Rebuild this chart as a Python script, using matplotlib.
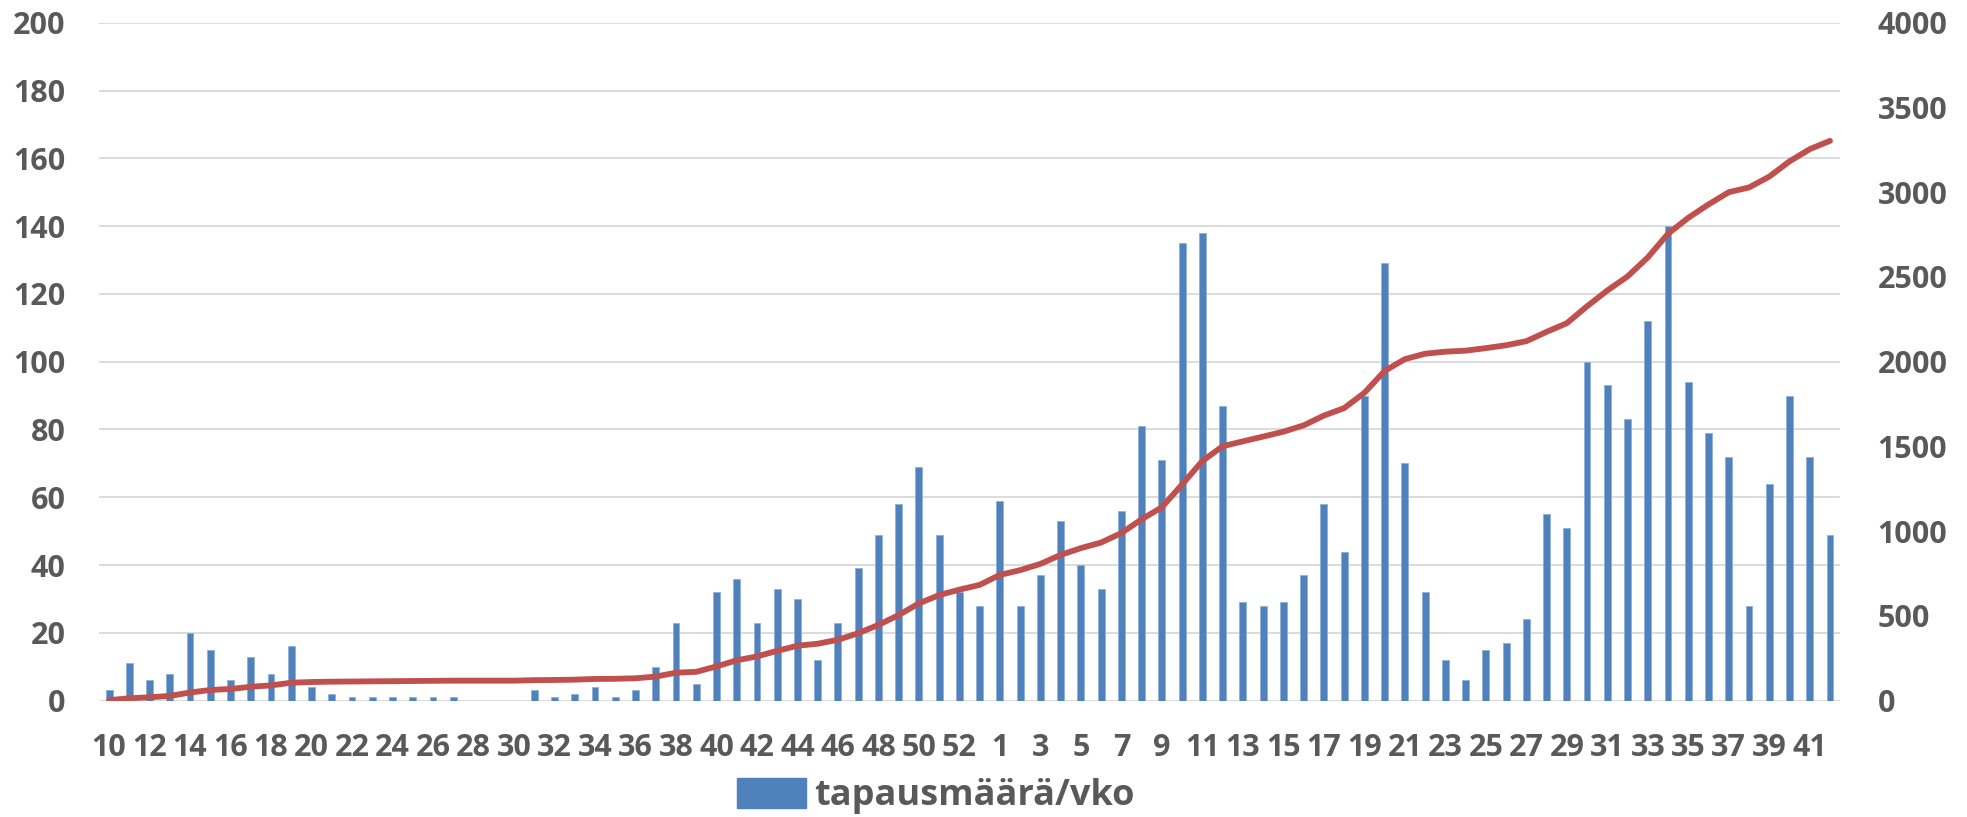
import numpy as np
import matplotlib
matplotlib.use("Agg")
import matplotlib.pyplot as plt
from matplotlib.patches import Patch

# viikot: 2020 vko 10-53, 2021 vko 1-42
weeks = list(range(10, 54)) + list(range(1, 43))

# tapausmäärä/vko (luettu kuvasta)
cases = [
    3, 11, 6, 8, 20, 15, 6, 13, 8, 16,        # 2020 vko 10-19
    4, 2, 1, 1, 1, 1, 1, 1, 0, 0,             # 20-29
    0, 3, 1, 2, 4, 1, 3, 10, 23, 5,           # 30-39
    32, 36, 23, 33, 30, 12, 23, 39, 49, 58,   # 40-49
    69, 49, 32, 28,                           # 50-53
    59, 28, 37, 53, 40, 33, 56, 81, 71,       # 2021 vko 1-9
    135, 138, 87, 29, 28, 29, 37, 58, 44, 90, # 10-19
    129, 70, 32, 12, 6, 15, 17, 24, 55, 51,   # 20-29
    100, 93, 83, 112, 140, 94, 79, 72, 28, 64,  # 30-39
    90, 72, 49,                               # 40-42
]

# kumulatiivinen summa (oikea akseli)
cumulative = np.cumsum(cases)

left_ticks = list(range(0, 201, 20))
right_ticks = list(range(0, 4001, 500))

BAR_COLOR = "#4F81BD"
LINE_COLOR = "#C0504D"
TEXT_COLOR = "#595959"
GRID_COLOR = "#D9D9D9"

plt.rcParams['font.family'] = ['Open Sans', 'DejaVu Sans']
plt.rcParams['font.weight'] = 'bold'

fig = plt.figure(figsize=(19.67, 8.17), dpi=100)
ax = fig.add_axes([0.0503, 0.1424, 0.8852, 0.8298])

x = np.arange(len(weeks))
ax.bar(x, cases, width=0.34, color=BAR_COLOR, edgecolor="#8FB0D8",
       linewidth=0.6, zorder=2)

ax.set_xlim(-0.5, len(weeks) - 0.5)
ax.set_ylim(0, 200)
ax.set_yticks(left_ticks)
ax.set_xticks(x[::2])
ax.set_xticklabels([str(w) for w in weeks[::2]])

ax.grid(axis='y', color=GRID_COLOR, linewidth=1.3, zorder=0)
ax.set_axisbelow(True)
for s in ax.spines.values():
    s.set_visible(False)
ax.tick_params(axis='both', length=0, labelsize=22, colors=TEXT_COLOR)
ax.tick_params(axis='x', pad=23)
ax.tick_params(axis='y', pad=24)

ax2 = ax.twinx()
ax2.plot(x, cumulative, color=LINE_COLOR, linewidth=4.2,
         solid_capstyle='round', solid_joinstyle='round', zorder=3)
ax2.set_ylim(0, 4000)
ax2.set_yticks(right_ticks)
for s in ax2.spines.values():
    s.set_visible(False)
ax2.tick_params(axis='y', length=0, labelsize=22, colors=TEXT_COLOR, pad=27)

handle = Patch(facecolor=BAR_COLOR, edgecolor=BAR_COLOR)
fig.legend([handle], ["tapausmäärä/vko"], loc='center',
           bbox_to_anchor=(936 / 1967, 1 - 796 / 817), frameon=False,
           fontsize=26, handlelength=1.9, handleheight=0.9,
           handletextpad=0.25, labelcolor=TEXT_COLOR)

fig.savefig("out.png", dpi=100)
